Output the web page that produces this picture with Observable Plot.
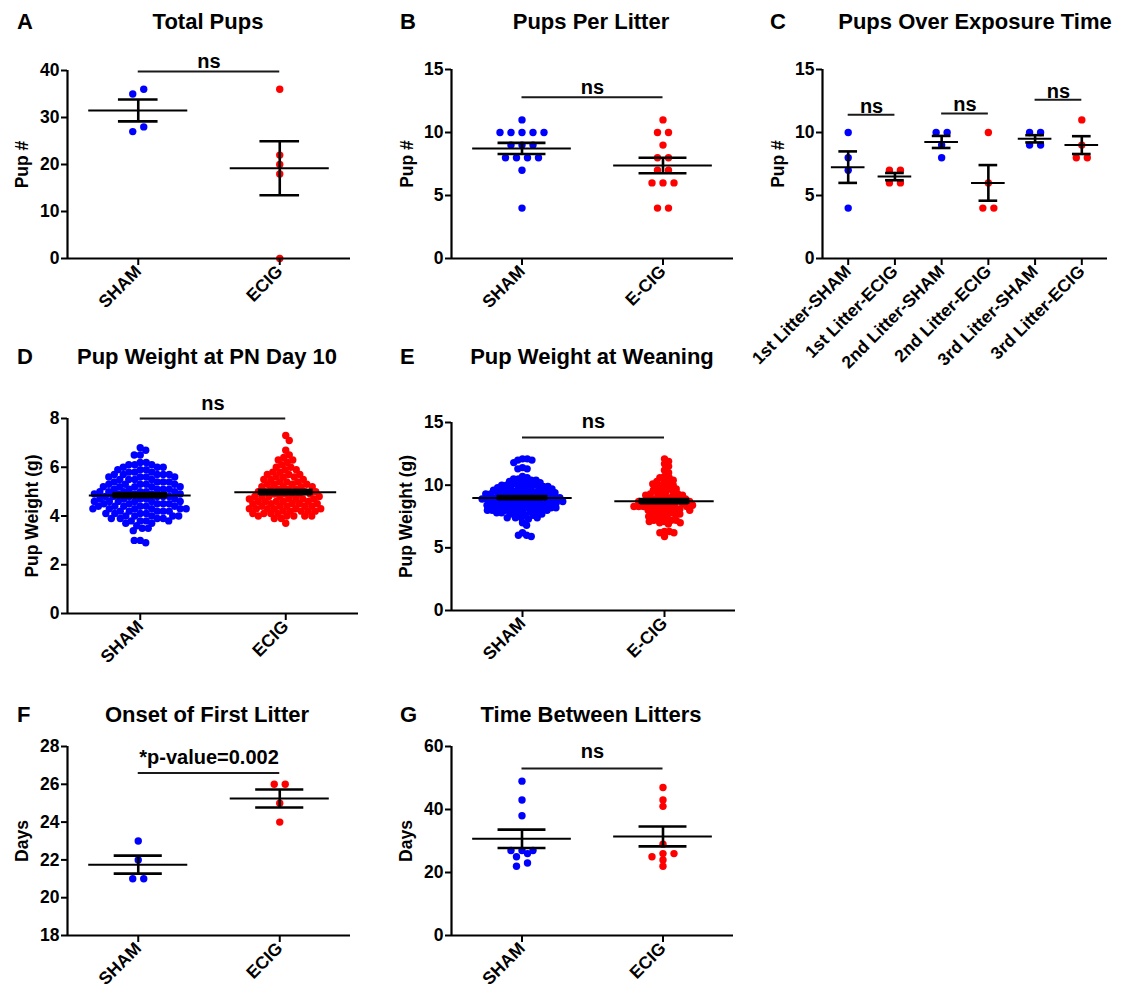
<!DOCTYPE html>
<html><head><meta charset="utf-8">
<script src="https://cdn.jsdelivr.net/npm/d3@7"></script>
<script src="https://cdn.jsdelivr.net/npm/@observablehq/plot@0.6"></script>
<style>
body{margin:0;background:#fff;}
#fig{position:relative;width:1128px;height:996px;overflow:hidden;background:#fff;font-family:'Liberation Sans',Arial,sans-serif;font-weight:bold;color:#000;}
#fig svg{position:absolute;left:0;top:0;}
.lbl{position:absolute;font-size:22px;line-height:22px;white-space:nowrap;}
.ttl{position:absolute;font-size:22px;line-height:22px;width:420px;text-align:center;white-space:nowrap;}
</style></head><body><div id="fig"></div>
<script>
// ---------- data ----------
const catsAB = ["SHAM", "ECIG"];
const catsB = ["SHAM", "E-CIG"];
const catsC = ["1st Litter-SHAM","1st Litter-ECIG","2nd Litter-SHAM","2nd Litter-ECIG","3rd Litter-SHAM","3rd Litter-ECIG"];

const totalPupsSham = [36, 35, 28, 27];
const totalPupsEcig = [36, 22, 20, 18, 0];

const perLitterSham = [11,10,10,10,10,10,9,9,9,8,8,8,8,7,4];
const perLitterEcig = [11,10,10,9,8,8,7,7,6,6,6,4,4];

const litter1Sham = [10, 8, 7, 4];
const litter1Ecig = [7, 7, 6, 6];
const litter2Sham = [10, 10, 9, 8];
const litter2Ecig = [10, 6, 4, 4];
const litter3Sham = [10, 10, 9, 9];
const litter3Ecig = [11, 9, 8, 8];

const weightPN10Sham = [2.9,3.0,3.0,3.4,3.5,3.5,3.6,3.7,3.7,3.8,3.8,3.8,3.8,3.9,3.9,3.9,3.9,4.0,4.0,4.0,4.0,4.0,4.1,4.1,4.1,4.1,4.2,4.2,4.2,4.2,4.2,4.3,4.3,4.3,4.3,4.3,4.3,4.4,4.4,4.4,4.4,4.4,4.4,4.5,4.5,4.5,4.5,4.5,4.6,4.6,4.6,4.6,4.6,4.6,4.7,4.7,4.7,4.7,4.7,4.8,4.8,4.8,4.8,4.8,4.8,4.9,4.9,4.9,4.9,4.9,5.0,5.0,5.0,5.0,5.0,5.0,5.1,5.1,5.1,5.1,5.1,5.2,5.2,5.2,5.2,5.2,5.3,5.3,5.3,5.3,5.3,5.4,5.4,5.4,5.4,5.5,5.5,5.5,5.5,5.6,5.6,5.6,5.6,5.7,5.7,5.7,5.7,5.7,5.8,5.8,5.8,5.9,5.9,5.9,6.0,6.0,6.0,6.1,6.1,6.1,6.2,6.2,6.5,6.5,6.7,6.8];
const weightPN10Ecig = [3.7,3.9,3.9,4.0,4.0,4.0,4.0,4.0,4.1,4.1,4.1,4.1,4.2,4.2,4.2,4.2,4.2,4.3,4.3,4.3,4.3,4.3,4.3,4.4,4.4,4.4,4.4,4.4,4.5,4.5,4.5,4.5,4.5,4.6,4.6,4.6,4.6,4.6,4.7,4.7,4.7,4.7,4.7,4.8,4.8,4.8,4.8,4.8,4.9,4.9,4.9,4.9,4.9,5.0,5.0,5.0,5.0,5.1,5.1,5.1,5.1,5.2,5.2,5.2,5.2,5.3,5.3,5.3,5.3,5.4,5.4,5.4,5.5,5.5,5.5,5.6,5.6,5.6,5.7,5.7,5.7,5.8,5.8,5.9,5.9,6.0,6.0,6.1,6.2,6.3,6.3,6.4,6.5,6.7,7.1,7.3];

const weightWeanSham = [5.9,6.0,6.0,6.2,6.8,7.0,7.3,7.4,7.4,7.4,7.4,7.6,7.6,7.7,7.7,7.7,7.8,7.8,7.8,7.9,7.9,7.9,8.0,8.0,8.0,8.0,8.1,8.1,8.1,8.1,8.2,8.2,8.2,8.2,8.3,8.3,8.3,8.3,8.4,8.4,8.4,8.4,8.5,8.5,8.5,8.5,8.6,8.6,8.6,8.6,8.7,8.7,8.7,8.7,8.7,8.8,8.8,8.8,8.8,8.9,8.9,8.9,8.9,8.9,9.0,9.0,9.0,9.0,9.0,9.1,9.1,9.1,9.1,9.2,9.2,9.2,9.2,9.3,9.3,9.3,9.3,9.4,9.4,9.4,9.4,9.5,9.5,9.5,9.5,9.6,9.6,9.6,9.6,9.7,9.7,9.7,9.8,9.8,9.8,9.9,9.9,9.9,10.0,10.0,10.0,10.0,10.1,10.1,10.2,10.2,10.3,10.3,10.4,10.4,10.5,10.5,10.6,10.7,11.3,11.3,11.4,11.8,12.0,12.0,12.1,12.1];
const weightWeanEcig = [5.9,6.2,6.2,6.3,6.3,6.9,7.0,7.0,7.1,7.1,7.2,7.2,7.2,7.4,7.4,7.5,7.5,7.7,7.7,7.7,7.8,7.8,7.8,8.0,8.0,8.0,8.1,8.1,8.1,8.2,8.2,8.2,8.3,8.3,8.3,8.3,8.4,8.4,8.4,8.5,8.5,8.5,8.6,8.6,8.6,8.7,8.7,8.7,8.8,8.8,8.8,8.9,8.9,8.9,9.0,9.0,9.0,9.2,9.2,9.2,9.3,9.3,9.4,9.4,9.4,9.6,9.6,9.7,9.7,9.8,9.8,10.0,10.0,10.1,10.1,10.3,10.3,10.4,10.6,10.6,10.7,11.0,11.2,11.5,11.7,11.9,12.1];

const onsetSham = [23, 22, 21, 21];
const onsetEcig = [26, 26, 25, 24];

const betweenSham = [49, 43, 38, 27, 27, 27, 26, 25, 23, 22];
const betweenEcig = [47, 43, 41, 29, 26, 26, 25, 24, 22];

const ticksA = [0, 10, 20, 30, 40];
const ticksB = [0, 5, 10, 15];
const ticksD = [0, 2, 4, 6, 8];
const ticksF = [18, 20, 22, 24, 26, 28];
const ticksG = [0, 20, 40, 60];

// significance brackets
const compsA = [{from: 0, to: 1, y: 39.8, label: "ns"}];
const compsB = [{from: 0, to: 1, y: 12.8, label: "ns"}];
const compsC = [{from: 0, to: 1, y: 11.4, label: "ns"}, {from: 2, to: 3, y: 11.5, label: "ns"}, {from: 4, to: 5, y: 12.6, label: "ns"}];
const compsD = [{from: 0, to: 1, y: 8.0, label: "ns"}];
const compsE = [{from: 0, to: 1, y: 13.8, label: "ns"}];
const compsF = [{from: 0, to: 1, y: 26.6, label: "*p-value=0.002"}];
const compsG = [{from: 0, to: 1, y: 53.0, label: "ns"}];

// ---------- layout / style ----------
const W = 1128, H = 996;
const BLUE = "#0000ff", RED = "#ff0000";
const panels = [
  {id: "A", title: "Total Pups", letterX: 17, titleX: 208, baseline: 30, frame: [67, 350, 70, 258], xDomain: [-0.5, 1.5], yDomain: [0, 40], yTicks: ticksA, cats: catsAB, series: [totalPupsSham, totalPupsEcig], bin: 2, yLabel: "Pup #", labelOffset: 52, comps: compsA, gap: 9, meanHalf: 0.35, capHalf: 0.14, band: false},
  {id: "B", title: "Pups Per Litter", letterX: 400, titleX: 591, baseline: 30, frame: [451, 733, 69, 258], xDomain: [-0.5, 1.5], yDomain: [0, 15], yTicks: ticksB, cats: catsB, series: [perLitterSham, perLitterEcig], bin: 1, yLabel: "Pup #", labelOffset: 51, comps: compsB, gap: 9, meanHalf: 0.35, capHalf: 0.17, band: false},
  {id: "C", title: "Pups Over Exposure Time", letterX: 770, titleX: 975, baseline: 30, frame: [822, 1107, 69, 258], xDomain: [-0.55, 5.55], yDomain: [0, 15], yTicks: ticksB, cats: catsC, series: [litter1Sham, litter1Ecig, litter2Sham, litter2Ecig, litter3Sham, litter3Ecig], bin: 1, yLabel: "Pup #", labelOffset: 51, comps: compsC, gap: 8, meanHalf: 0.36, capHalf: 0.2, band: false},
  {id: "D", title: "Pup Weight at PN Day 10", letterX: 17, titleX: 207, baseline: 365, frame: [67, 358, 418, 613], xDomain: [-0.5, 1.5], yDomain: [0, 8], yTicks: ticksD, cats: catsAB, series: [weightPN10Sham, weightPN10Ecig], swarm: 6, yLabel: "Pup Weight (g)", labelOffset: 42, comps: compsD, gap: 14, meanHalf: 0.35, capHalf: 0.18, band: true},
  {id: "E", title: "Pup Weight at Weaning", letterX: 400, titleX: 592, baseline: 365, frame: [451, 735, 422, 610], xDomain: [-0.5, 1.5], yDomain: [0, 15], yTicks: ticksB, cats: catsB, series: [weightWeanSham, weightWeanEcig], swarm: 4.8, yLabel: "Pup Weight (g)", labelOffset: 52, comps: compsE, gap: 15, meanHalf: 0.35, capHalf: 0.17, band: true},
  {id: "F", title: "Onset of First Litter", letterX: 17, titleX: 207, baseline: 723, frame: [67, 350, 746, 935], xDomain: [-0.5, 1.5], yDomain: [18, 28], yTicks: ticksF, cats: catsAB, series: [onsetSham, onsetEcig], bin: 0.5, yLabel: "Days", labelOffset: 52, comps: compsF, gap: 15, meanHalf: 0.35, capHalf: 0.17, band: false},
  {id: "G", title: "Time Between Litters", letterX: 400, titleX: 591, baseline: 723, frame: [451, 733, 746, 935], xDomain: [-0.5, 1.5], yDomain: [0, 60], yTicks: ticksG, cats: catsAB, series: [betweenSham, betweenEcig], bin: 1.5, yLabel: "Days", labelOffset: 52, comps: compsG, gap: 16, meanHalf: 0.35, capHalf: 0.17, band: false}
];

const DOT_SPACING_PX = 11;
const FONT = "'Liberation Sans', Arial, sans-serif";
const fig = document.getElementById("fig");

// GraphPad-style scatter: values sharing a row are spread horizontally around the group centre
function rowPoints(values, index, bin, pxPerUnit) {
  const spacing = DOT_SPACING_PX / pxPerUnit;
  const rows = d3.group(values.slice().sort((a, b) => a - b), v => Math.round(v / bin));
  const pts = [];
  for (const [, vs] of rows) {
    vs.forEach((v, j) => pts.push({x: index + (j - (vs.length - 1) / 2) * spacing, y: v}));
  }
  return pts;
}

// dense groups: greedy beeswarm in pixel space (collision distance d), alternating sides on ties
function swarmPoints(values, index, d, pxPerUnit, yPx) {
  const items = values.map(v => ({v, py: yPx(v)})).sort((p, q) => p.py - q.py);
  const placed = [];
  items.forEach((it, k) => {
    const side = k % 2 ? 1 : -1;
    const cands = [0];
    for (const q of placed) {
      const dy = Math.abs(q.py - it.py);
      if (dy < d) {
        const dx = Math.sqrt(d * d - dy * dy);
        cands.push(q.px - dx, q.px + dx);
      }
    }
    cands.sort((p, q) => (Math.abs(p) - Math.abs(q)) || (side * (q - p)));
    for (const c of cands) {
      if (placed.every(q => (q.px - c) ** 2 + (q.py - it.py) ** 2 >= d * d - 1e-6)) { it.px = c; break; }
    }
    placed.push(it);
  });
  return placed.map(it => ({x: index + it.px / pxPerUnit, y: it.v}));
}

for (const p of panels) {
  const [x0, x1, y0, y1] = p.frame;
  const pxPerUnit = (x1 - x0) / (p.xDomain[1] - p.xDomain[0]);
  const yPx = d3.scaleLinear(p.yDomain, [y1, y0]);
  const stats = p.series.map((vals, i) => {
    const m = d3.mean(vals), s = d3.deviation(vals) / Math.sqrt(vals.length);
    return {i, mean: m, lo: m - s, hi: m + s};
  });
  const marks = [];
  p.series.forEach((vals, i) => {
    const pts = p.swarm ? swarmPoints(vals, i, p.swarm, pxPerUnit, yPx) : rowPoints(vals, i, p.bin, pxPerUnit);
    marks.push(Plot.dot(pts, {x: "x", y: "y", r: 3.7, fill: i % 2 === 0 ? BLUE : RED, stroke: "none"}));
  });
  if (p.band) {
    marks.push(Plot.rect(stats, {x1: d => d.i - p.capHalf, x2: d => d.i + p.capHalf, y1: "lo", y2: "hi", fill: "black", stroke: "black", strokeWidth: 2.5}));
  }
  marks.push(
    Plot.ruleY(stats, {y: "mean", x1: d => d.i - p.meanHalf, x2: d => d.i + p.meanHalf, stroke: "black", strokeWidth: 2}),
    Plot.ruleY(stats, {y: "hi", x1: d => d.i - p.capHalf, x2: d => d.i + p.capHalf, stroke: "black", strokeWidth: 2.6}),
    Plot.ruleY(stats, {y: "lo", x1: d => d.i - p.capHalf, x2: d => d.i + p.capHalf, stroke: "black", strokeWidth: 2.6}),
    Plot.ruleX(stats, {x: "i", y1: "lo", y2: "hi", stroke: "black", strokeWidth: 2.6}),
    Plot.ruleY(p.comps, {y: "y", x1: "from", x2: "to", stroke: "#1a1a1a", strokeWidth: 2}),
    Plot.text(p.comps, {x: d => (d.from + d.to) / 2, y: "y", text: "label", fontSize: 20, fontWeight: "bold", lineAnchor: "bottom", dy: -(p.gap - 0.29 * 20), fill: "black"}),
    Plot.ruleX([p.xDomain[0]], {stroke: "black", strokeWidth: 2.2}),
    Plot.ruleY([p.yDomain[0]], {stroke: "black", strokeWidth: 2.2}),
    Plot.axisY({ticks: p.yTicks, tickSize: 6, tickPadding: 2, strokeWidth: 2, fontSize: 17.5, fontWeight: "bold", label: p.yLabel, labelAnchor: "center", labelOffset: p.labelOffset, labelArrow: "none"}),
    Plot.axisX({ticks: d3.range(p.cats.length), tickFormat: i => p.cats[i], tickRotate: -45, tickSize: 7, tickPadding: 3, strokeWidth: 2, fontSize: 17.5, fontWeight: "bold", label: null})
  );
  const svg = Plot.plot({
    width: W, height: H,
    marginLeft: x0, marginRight: W - x1, marginTop: y0, marginBottom: H - y1,
    x: {domain: p.xDomain},
    y: {domain: p.yDomain},
    style: {background: "transparent", overflow: "visible", fontFamily: FONT, fontSize: "17px", fontWeight: "bold", color: "black"},
    marks
  });
  fig.appendChild(svg);

  const letter = document.createElement("div");
  letter.className = "lbl";
  letter.textContent = p.id;
  letter.style.left = p.letterX + "px";
  letter.style.top = (p.baseline - 19) + "px";
  fig.appendChild(letter);

  const title = document.createElement("div");
  title.className = "ttl";
  title.textContent = p.title;
  title.style.left = (p.titleX - 210) + "px";
  title.style.top = (p.baseline - 19) + "px";
  fig.appendChild(title);
}
</script></body></html>
